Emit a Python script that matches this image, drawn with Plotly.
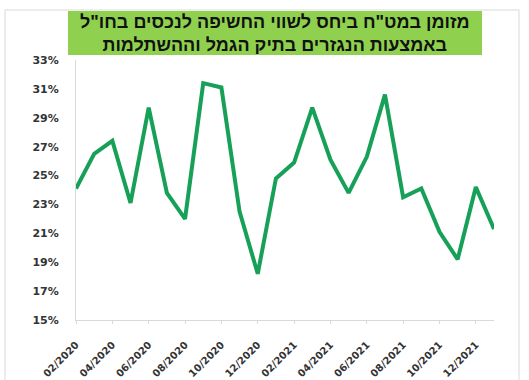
import plotly.graph_objects as go

# Monthly share of FX cash relative to foreign-asset exposure (%)
months = [
    "02/2020", "03/2020", "04/2020", "05/2020", "06/2020", "07/2020",
    "08/2020", "09/2020", "10/2020", "11/2020", "12/2020", "01/2021",
    "02/2021", "03/2021", "04/2021", "05/2021", "06/2021", "07/2021",
    "08/2021", "09/2021", "10/2021", "11/2021", "12/2021", "01/2022",
]
values = [
    24.1, 26.5, 27.4, 23.1, 29.7, 23.8,
    22.0, 31.4, 31.1, 22.5, 18.2, 24.8,
    25.9, 29.7, 26.1, 23.8, 26.3, 30.6,
    23.5, 24.1, 21.1, 19.2, 24.2, 21.3,
]
y_ticks = [15, 17, 19, 21, 23, 25, 27, 29, 31, 33]
title_lines = [
    'מזומן במט"ח ביחס לשווי החשיפה לנכסים בחו"ל',
    "באמצעות הנגזרים בתיק הגמל וההשתלמות",
]

W, H = 529, 380


def px(x):
    return x / W


def py(y):
    return 1 - y / H


x_idx = list(range(len(months)))
label_idx = x_idx[::2]

fig = go.Figure()
fig.add_trace(go.Scatter(
    x=x_idx,
    y=values,
    mode="lines",
    line=dict(color="#17a058", width=4),
    hoverinfo="skip",
))

fig.update_layout(
    width=W,
    height=H,
    margin=dict(l=0, r=0, t=0, b=0, autoexpand=False),
    paper_bgcolor="white",
    plot_bgcolor="white",
    showlegend=False,
    xaxis=dict(
        domain=[px(76), px(494)],
        range=[0, len(months) - 1],
        automargin=False,
        tickmode="array",
        tickvals=label_idx,
        ticktext=[months[i] for i in label_idx],
        tickangle=-45,
        tickfont=dict(family="DejaVu Sans", size=10, color="#333333", weight="bold"),
        showgrid=False,
        zeroline=False,
        showline=True,
        linecolor="#d9d9d9",
        linewidth=1,
        ticks="outside",
        ticklen=3,
        tickcolor="#d9d9d9",
        ticklabelstandoff=11,
    ),
    yaxis=dict(
        domain=[py(320), py(60)],
        range=[15, 33],
        automargin=False,
        tickmode="array",
        tickvals=y_ticks,
        ticktext=[f"{v}%" for v in y_ticks],
        tickfont=dict(family="DejaVu Sans", size=11, color="#333333", weight="bold"),
        showgrid=False,
        zeroline=False,
        showline=True,
        linecolor="#d9d9d9",
        linewidth=1,
        ticklabelstandoff=14,
    ),
    shapes=[
        # outer chart frame
        dict(type="rect", xref="paper", yref="paper",
             x0=px(5), x1=px(519), y0=py(400), y1=py(10),
             line=dict(color="#d9d9d9", width=1), fillcolor="rgba(0,0,0,0)",
             layer="below"),
        # title banner
        dict(type="rect", xref="paper", yref="paper",
             x0=px(68), x1=px(482), y0=py(55), y1=py(11),
             line=dict(width=0), fillcolor="#8fd14f", layer="below"),
    ],
    annotations=[
        dict(
            xref="paper", yref="paper",
            x=px(275), y=py(33),
            text="<br>".join(title_lines),
            showarrow=False,
            align="center",
            xanchor="center", yanchor="middle",
            font=dict(family="Liberation Sans", size=18, color="#111111", weight="bold"),
        )
    ],
)

fig.write_html("out.html")
